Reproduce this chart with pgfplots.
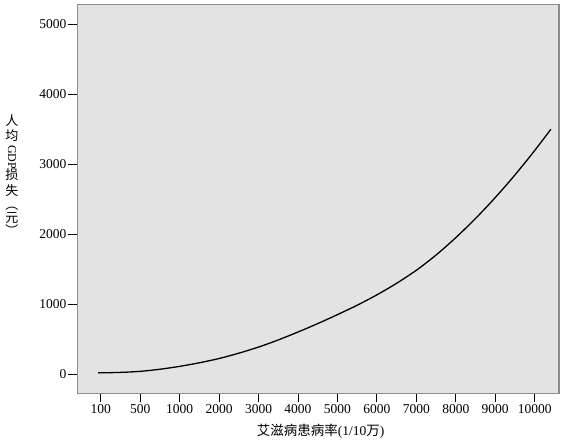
\documentclass[border=0pt]{standalone}
\usepackage{pgfplots}
\pgfplotsset{compat=1.18}
\usepackage{fontspec}
\usepackage{graphicx}
\setmainfont{Liberation Serif}
\newfontfamily\cjk{Noto Sans CJK SC}
\definecolor{plotbg}{RGB}{227,227,227}
\definecolor{frame}{RGB}{140,140,140}

\begin{document}
\begin{tikzpicture}
\begin{axis}[
    name=ax,
    scale only axis,
    width=481.7pt,
    height=388.6pt,
    xmin=-0.593, xmax=11.616,
    ymin=-267, ymax=5276,
    xtick={0,1,2,3,4,5,6,7,8,9,10,11},
    xticklabels={100,500,1000,2000,3000,4000,5000,6000,7000,8000,9000,10000},
    ytick={0,1000,2000,3000,4000,5000},
    xtick pos=left, ytick pos=left,
    tick align=outside,
    major tick length=9pt,
    tick style={black, line width=0.9pt},
    axis line style={frame, line width=1pt},
    axis background/.style={fill=plotbg},
    /pgf/number format/assume math mode=true,
    scaled y ticks=false,
    yticklabel style={/pgf/number format/1000 sep={}, xshift=1.5pt},
    xticklabel style={yshift=1pt},
    ticklabel style={font=\fontsize{13.5}{13.5}\selectfont},
    xlabel={\cjk 艾滋病患病率\rmfamily(1/10\cjk 万\rmfamily)},
    xlabel style={at={(rel axis cs:0.505,0)}, anchor=center, yshift=-38pt,
                  font=\fontsize{13.5}{13.5}\selectfont},
]
    % fitted curve, x = category index
    \addplot[black, line width=1.3pt, smooth, mark=none] coordinates {
        (-0.06, 24)
        (0, 25)
        (0.5, 31)
        (1, 46)
        (1.5, 76)
        (2, 117)
        (2.5, 168)
        (3, 229)
        (3.5, 305)
        (4, 392)
        (4.5, 494)
        (5, 607)
        (5.5, 727)
        (6, 855)
        (6.5, 989)
        (7, 1137)
        (7.5, 1302)
        (8, 1488)
        (8.5, 1705)
        (9, 1953)
        (9.5, 2226)
        (10, 2525)
        (10.5, 2848)
        (11, 3196)
        (11.41, 3500)
    };
\end{axis}
\draw[frame, line width=2pt] ([xshift=-0.5pt]ax.south east) -- ([xshift=-0.5pt]ax.north east);
\node[anchor=center, inner sep=0pt, font=\fontsize{13}{14.5}\selectfont]
  at ([shift={(-65.3pt,-172.5pt)}]ax.north west) {%
  \begin{tabular}{@{}c@{}}
  \cjk 人\\ \cjk 均\\
  \rotatebox[origin=c]{-90}{\fontsize{12}{13}\selectfont GDP}\\
  \cjk 损\\ \cjk 失\\
  \cjk ︵\\[-2pt] \cjk 元\\[-2pt] \cjk ︶
  \end{tabular}};
\pgfresetboundingbox
\path ([shift={(-77.3pt,-47.7pt)}]ax.south west) rectangle ([shift={(7pt,4.7pt)}]ax.north east);
\end{tikzpicture}
\end{document}
